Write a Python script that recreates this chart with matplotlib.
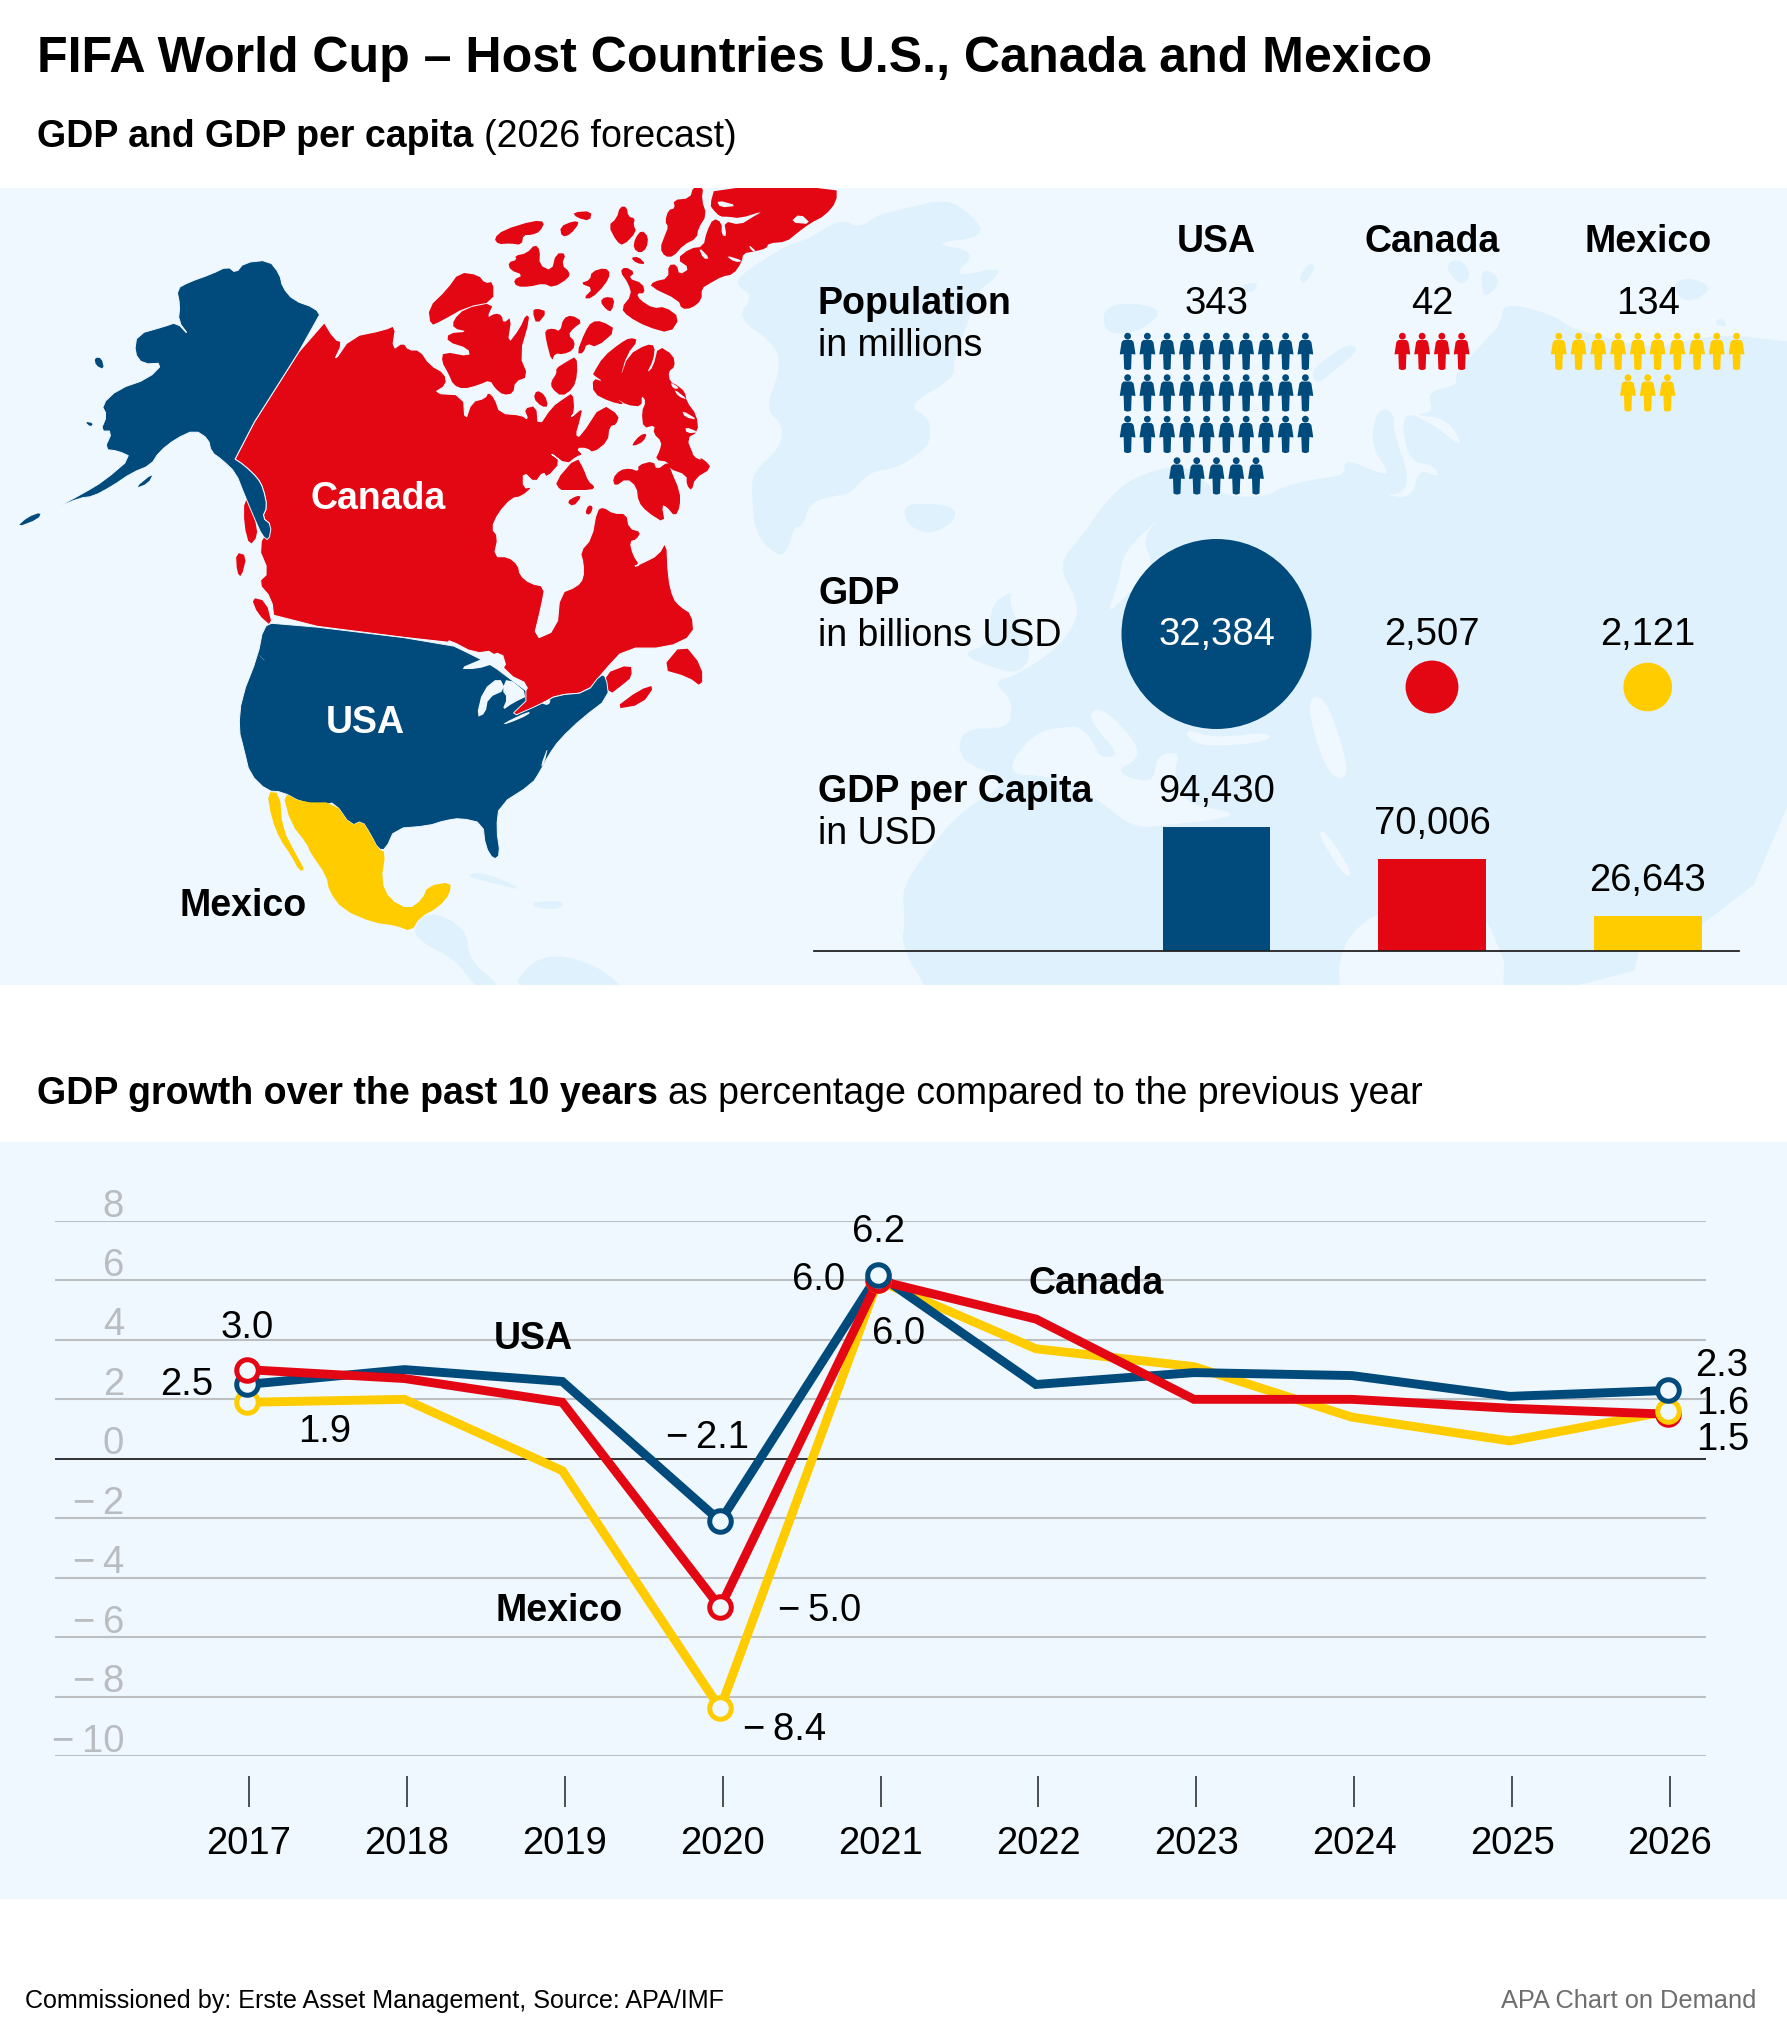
#! /usr/bin/env python3
import numpy as np
import matplotlib
matplotlib.use('Agg')
import matplotlib.pyplot as plt
from matplotlib.patches import Polygon, Rectangle, Circle
from matplotlib.transforms import ScaledTranslation

plt.rcParams['font.family'] = ['Liberation Sans', 'DejaVu Sans']

W, H = 1787, 2035
NAVY, RED, YELLOW = '#004a7c', '#e30613', '#ffcc00'
PANEL, LAND = '#eff8fe', '#dff1fd'
TEXT_SIZE, NUM_SIZE = 27, 27.5

countries = ['USA', 'Canada', 'Mexico']
colors = [NAVY, RED, YELLOW]
population = [343, 42, 134]
population_icons = [35, 4, 13]
gdp = [32384, 2507, 2121]
gdp_per_capita = [94430, 70006, 26643]

years = [2017, 2018, 2019, 2020, 2021, 2022, 2023, 2024, 2025, 2026]
growth_usa = [2.5, 3.0, 2.6, -2.1, 6.2, 2.5, 2.9, 2.8, 2.1, 2.3]
growth_canada = [3.0, 2.7, 1.9, -5.0, 6.0, 4.7, 2.0, 2.0, 1.7, 1.5]
growth_mexico = [1.9, 2.0, -0.4, -8.4, 6.0, 3.7, 3.1, 1.4, 0.6, 1.6]
y_ticks = [8, 6, 4, 2, 0, -2, -4, -6, -8, -10]
marked_years = [2017, 2020, 2021, 2026]


def wide(pts):
    return [(x / 1.823, 180 + y / 1.912) for x, y in pts]

def fine(pts):
    return [(420 + x / 3, 185 + y / 3) for x, y in pts]

def mid(pts):
    return [(840 + x / 3, 185 + y / 3) for x, y in pts]

def east(pts):
    return [(1287 + x / 3, 185 + y / 3) for x, y in pts]

def south(pts):
    return [(880 + x / 3, 585 + y / 3) for x, y in pts]

def smooth(pts, rounds=1):
    # corner cutting, the traced outlines are too angular otherwise
    pts = np.array(pts, dtype=float)
    for _ in range(rounds):
        nxt = np.roll(pts, -1, axis=0)
        pts = np.column_stack([0.75 * pts + 0.25 * nxt, 0.25 * pts + 0.75 * nxt]).reshape(-1, 2)
    return pts

alaska = wide([(585, 262), (423, 530), (445, 545), (470, 570), (480, 590), (487, 625), (478, 645),
    (495, 660), (490, 690), (478, 680), (465, 650), (445, 600), (430, 560), (405, 535), (385, 520),
    (380, 495), (355, 478), (320, 495), (290, 520), (275, 545), (240, 560), (205, 585), (170, 605),
    (145, 608), (100, 628), (150, 600), (190, 575), (240, 530), (215, 518), (190, 515), (205, 480),
    (183, 480), (195, 450), (185, 430), (215, 400), (270, 380), (298, 350), (260, 352), (245, 330),
    (250, 295), (300, 280), (322, 272), (345, 298), (325, 270), (328, 240), (322, 208), (345, 195), (385, 180), (415, 165), (430, 178),
    (445, 158), (490, 153), (510, 180), (515, 205), (535, 230), (575, 245)])
aleutians = wide([(30, 664), (50, 645), (75, 635), (70, 648)])
alaska_isles = [wide(p) for p in [[(172, 340), (185, 340), (190, 362), (175, 355)],
    [(155, 462), (170, 465), (165, 472)], [(245, 590), (280, 560), (270, 580)]]]
alaska_slits = [wide(p) for p in [[(275, 540), (352, 480), (310, 530), (290, 540)],
    [(350, 530), (385, 498), (375, 520)]]]

canada_main = (wide([(585, 262), (610, 305), (625, 310), (607, 350), (640, 300), (700, 287),
        (722, 277), (715, 325), (735, 310), (745, 325)])
    + fine([(0, 495), (30, 540), (75, 565), (80, 600), (40, 625), (130, 630), (135, 710), (155, 650),
        (195, 640), (205, 620), (225, 640), (240, 685), (305, 690), (325, 705), (310, 670), (350, 660),
        (355, 725), (395, 665), (430, 640), (460, 620), (465, 680), (450, 700), (490, 665), (480, 710),
        (468, 750), (480, 755), (545, 655), (600, 690), (590, 720), (570, 725), (565, 770), (520, 805),
        (500, 790), (470, 790), (490, 810), (470, 815), (440, 840), (385, 800), (425, 830), (380, 880),
        (370, 860), (345, 895), (310, 860), (310, 910), (340, 905), (305, 935), (275, 940), (235, 985),
        (215, 1030), (235, 1055), (222, 1115), (265, 1115), (295, 1140), (300, 1170), (330, 1195),
        (375, 1205), (365, 1260)])
    + wide([(972, 880), (1015, 860), (1021, 790)])
    + fine([(470, 1205), (490, 1180), (490, 1135), (480, 1100), (515, 1060), (530, 975), (550, 965),
        (580, 985), (620, 985), (628, 1030), (665, 1040), (650, 1065), (630, 1070), (640, 1110),
        (660, 1140), (640, 1145), (665, 1135), (715, 1110), (740, 1065), (745, 1180), (760, 1240)])
    + wide([(1240, 815), (1262, 830), (1265, 870), (1215, 895), (1140, 895), (1100, 940), (1070, 980),
        (1015, 985), (990, 1000), (965, 1015), (925, 1030), (950, 990), (965, 965), (925, 945),
        (900, 900), (865, 905), (820, 880), (815, 885), (500, 843), (495, 800), (470, 770), (490, 750),
        (470, 700), (495, 660), (478, 645), (487, 625), (480, 590), (470, 570), (445, 545), (423, 530)]))

arctic = [fine(p) for p in [
    [(222, 160), (250, 135), (340, 107), (375, 110), (360, 140), (335, 150), (310, 150), (305, 180), (270, 175), (235, 178)],
    [(420, 125), (460, 108), (480, 112), (450, 150), (425, 155)],
    [(458, 82), (515, 78), (510, 108), (470, 98)],
    [(565, 122), (590, 100), (600, 65), (620, 65), (625, 95), (645, 100), (640, 120), (650, 140), (610, 182), (590, 170)],
    [(645, 160), (665, 135), (685, 155), (680, 190), (660, 205), (640, 190)],
    [(632, 218), (655, 215), (678, 238), (650, 235)],
    [(265, 232), (290, 225), (285, 212), (320, 205), (345, 178), (360, 195), (358, 240), (395, 258), (408, 205), (438, 205),
     (425, 240), (450, 262), (445, 280), (400, 308), (370, 295), (330, 305), (290, 305), (280, 285), (310, 270), (270, 255)],
    [(480, 295), (510, 285), (515, 260), (555, 248), (572, 265), (555, 300), (515, 340), (490, 340), (520, 310)],
    [(540, 350), (555, 335), (585, 340), (575, 380), (560, 375)],
    [(600, 260), (615, 245), (645, 262), (625, 280), (668, 295), (675, 325), (650, 325), (660, 345), (700, 370), (735, 365),
     (780, 398), (750, 445), (680, 425), (625, 395), (603, 370), (635, 330), (625, 295)],
    [(820, 5), (850, 5), (845, 45), (860, 90), (835, 130), (830, 160), (790, 180), (760, 215), (735, 215), (720, 190),
     (735, 150), (745, 125), (735, 110), (745, 75), (765, 70), (760, 45), (810, 40)],
    [(870, 60), (885, 5), (1250, 5), (1250, 50), (1215, 92), (1170, 115), (1130, 145), (1100, 170), (1045, 175), (1040, 190),
     (1000, 200), (970, 205), (965, 232), (940, 268), (905, 275), (870, 295), (845, 310), (845, 345), (815, 370), (785, 372),
     (775, 345), (690, 305), (700, 290), (745, 280), (745, 240), (770, 238), (778, 270), (810, 250), (770, 222), (810, 190),
     (850, 185), (860, 140), (880, 100), (905, 112), (905, 150), (920, 155), (912, 108), (960, 120), (1000, 95), (1030, 78),
     (960, 100), (925, 95), (900, 95), (880, 75)],
    [(25, 368), (80, 315), (118, 262), (175, 270), (195, 295), (220, 290), (220, 350), (140, 365), (60, 410), (32, 422)],
    [(100, 405), (135, 370), (222, 352), (200, 400), (225, 385), (245, 390), (250, 415), (275, 395), (262, 480), (300, 430),
     (318, 388), (330, 400), (298, 510), (325, 575), (285, 590), (280, 625), (250, 630), (225, 610), (210, 585), (175, 600),
     (130, 612), (100, 600), (85, 565), (65, 530), (70, 500), (150, 515), (145, 490), (82, 470), (85, 445), (145, 440), (100, 430)],
    [(337, 378), (350, 370), (382, 380), (350, 420)],
    [(375, 435), (400, 430), (420, 440), (430, 400), (455, 390), (488, 410), (460, 430), (445, 450), (465, 470), (460, 495),
     (430, 508), (405, 505), (395, 530), (378, 465)],
    [(470, 505), (495, 440), (515, 410), (545, 408), (590, 435), (530, 487), (500, 475), (490, 505)],
    [(408, 550), (440, 530), (470, 513), (472, 570), (460, 610), (425, 635), (395, 610), (393, 590), (410, 565)],
    [(340, 640), (350, 615), (375, 630), (385, 665), (365, 665)],
    [(405, 890), (470, 815), (490, 850), (505, 890), (525, 905), (515, 915), (440, 915), (420, 915)],
    [(578, 880), (600, 855), (630, 850), (655, 860), (655, 840), (700, 828), (710, 855), (745, 830), (750, 850), (780, 920),
     (780, 965), (765, 995), (740, 965), (725, 960), (735, 1015), (680, 980), (655, 950), (650, 905), (620, 880), (585, 905)],
    [(520, 565), (550, 515), (600, 475), (630, 458), (655, 465), (620, 510), (600, 580), (625, 510), (680, 478), (705, 482),
     (700, 525), (680, 565), (700, 545), (715, 482), (760, 510), (765, 545), (745, 560), (750, 590), (770, 600), (795, 620),
     (800, 650), (830, 690), (835, 740), (800, 760), (820, 810), (855, 825), (875, 850), (825, 880), (815, 918), (800, 900),
     (800, 870), (745, 850), (745, 830), (705, 825), (720, 795), (725, 770), (700, 745), (705, 720), (670, 730), (665, 680),
     (678, 650), (665, 630), (665, 665), (620, 660), (590, 640), (615, 660), (570, 650), (520, 625), (518, 580), (550, 590), (520, 570)],
    [(635, 780), (660, 750), (682, 745), (670, 770), (645, 782)],
    [(440, 950), (470, 932), (485, 935), (460, 965)],
    [(495, 985), (505, 960), (520, 965), (510, 990)],
]]
arctic_slits = [fine(p) for p in [[(760, 610), (805, 645), (775, 635)], [(785, 675), (835, 705), (795, 697)],
    [(795, 725), (838, 742), (800, 745)], [(815, 790), (850, 828), (820, 815)], [(750, 590), (780, 610), (760, 612)],
    [(1140, 85), (1175, 118), (1110, 112)], [(915, 210), (972, 228), (945, 232)], [(985, 178), (1010, 200), (995, 198)],
    [(835, 185), (870, 220), (850, 222)], [(890, 45), (955, 62), (900, 68)]]]
canada_isles = [wide(p) for p in [
    [(445, 610), (462, 615), (465, 650), (470, 680), (455, 700), (445, 660)],
    [(430, 712), (450, 718), (440, 760), (432, 750)],
    [(458, 798), (485, 805), (497, 855), (470, 830)],
    [(1100, 945), (1150, 925), (1152, 950), (1135, 965), (1110, 985)],
    [(1118, 1012), (1165, 975), (1195, 965), (1170, 1003)],
    [(1205, 935), (1245, 885), (1280, 930), (1280, 970), (1255, 950)],
]]

usa = wide([(500, 845), (815, 885), (865, 910), (900, 930), (925, 950), (970, 985), (925, 1030), (990, 1000),
    (1015, 985), (1070, 980), (1095, 945), (1105, 950), (1110, 990), (1060, 1030), (1020, 1070), (1000, 1100),
    (985, 1130), (970, 1155), (910, 1195), (905, 1240), (912, 1290), (900, 1300), (885, 1275), (880, 1230),
    (840, 1220), (810, 1225), (780, 1235), (720, 1240), (703, 1280), (690, 1280), (675, 1250), (660, 1225),
    (640, 1235), (610, 1190), (590, 1195), (550, 1190), (515, 1170), (487, 1168), (455, 1135), (445, 1090),
    (435, 1050), (440, 990), (470, 910), (480, 855)])
usa_slits = [wide(p) for p in [[(985, 1122), (1000, 1080), (992, 1118)], [(470, 905), (485, 922), (478, 915)]]]
mexico_main = wide([(515, 1170), (550, 1190), (610, 1190), (640, 1235), (660, 1225), (675, 1250), (690, 1280),
    (703, 1285), (695, 1340), (710, 1375), (745, 1395), (770, 1375), (780, 1350), (822, 1342), (820, 1365),
    (800, 1390), (765, 1410), (750, 1437), (720, 1425), (680, 1420), (625, 1395), (600, 1360), (595, 1330),
    (565, 1285), (560, 1270), (530, 1230)])
baja = wide([(487, 1170), (510, 1172), (515, 1240), (540, 1290), (556, 1320), (545, 1320), (530, 1290),
    (510, 1260), (495, 1220)])
lakes = [wide(p) for p in [
    [(835, 935), (880, 915), (915, 900), (925, 935), (900, 925), (870, 935)],
    [(868, 1028), (880, 975), (910, 950), (922, 975), (890, 990), (885, 1020)],
    [(915, 975), (925, 950), (965, 985), (935, 1000), (915, 1015), (925, 990)],
    [(915, 1040), (965, 1015), (965, 1022), (925, 1040)],
    [(985, 1000), (1005, 992), (1000, 1005)],
]]

greenland = (fine([(960, 270), (1100, 180), (1170, 160), (1260, 100)])
    + mid([(60, 130), (110, 90), (180, 75), (320, 40), (395, 90), (440, 155), (270, 175), (415, 200),
        (330, 280), (510, 240), (390, 340), (395, 390), (340, 520), (345, 580), (200, 660), (270, 700), (270, 770),
        (245, 800), (170, 850), (90, 860), (30, 925)])
    + fine([(1260, 930), (1170, 950), (1150, 1020), (1120, 1030), (1110, 1080), (1080, 1120), (1005, 1050),
        (995, 920), (1000, 860), (1080, 790), (1090, 720), (1035, 670), (1080, 560), (1070, 480), (950, 400),
        (1000, 335), (950, 300)]))
iceland = mid([(190, 960), (260, 955), (345, 965), (345, 1010), (270, 1050), (200, 1020)])
svalbard = [mid([(785, 375), (860, 350), (975, 375), (900, 440), (800, 450)]),
    mid([(1380, 280), (1420, 230), (1400, 290)]),
    mid([(1200, 300), (1260, 290), (1230, 330)])]
siberia_isles = [east([(470, 240), (520, 220), (555, 270), (520, 305)]), east([(580, 270), (600, 250), (645, 290), (590, 345)]),
    east([(1150, 300), (1210, 275), (1280, 310), (1200, 360)]), east([(1280, 420), (1300, 395), (1325, 425)]),
    east([(35, 275), (70, 230), (85, 250), (50, 300)])]
eurasia = (south([(150, 1225), (65, 1090), (75, 1000), (65, 910), (140, 800), (240, 680), (400, 585),
        (235, 530), (245, 430), (385, 430), (395, 380), (390, 340), (340, 290), (410, 270), (520, 200), (585, 120), (595, 50)])
    + [(1057, 565), (1083, 535), (1103, 505), (1130, 478), (1187, 462), (1217, 495), (1263, 498)]
    + east([(0, 900), (100, 880), (175, 870), (170, 820), (290, 870), (305, 860), (250, 780), (270, 670), (320, 680),
        (320, 740), (365, 870), (350, 925), (290, 930), (375, 940), (395, 850), (460, 880), (440, 840), (370, 830),
        (345, 730), (360, 680), (440, 720), (490, 760), (530, 785), (480, 700), (380, 690), (440, 680), (420, 620),
        (515, 600), (500, 570), (600, 460), (640, 420), (650, 350), (800, 390), (850, 430), (1000, 470),
        (1100, 490), (1300, 445), (1500, 470), (1550, 470)])
    + [(1810, 1010), (930, 1010)])
novaya = east([(70, 560), (130, 510), (190, 475), (215, 495), (150, 550), (90, 600)])
britain = south([(240, 205), (330, 180), (330, 60), (400, 15), (385, 60), (460, 200), (420, 265), (340, 250)])
seas = [
    south([(395, 525), (470, 440), (560, 425), (600, 425), (640, 470), (660, 520), (720, 510), (640, 420), (630, 380),
        (670, 370), (760, 460), (780, 520), (700, 560), (820, 600), (830, 510), (900, 500), (880, 570), (920, 660),
        (1060, 680), (1040, 700), (860, 720), (760, 730), (650, 640), (560, 590), (470, 570), (400, 570)]),
    south([(915, 430), (1000, 460), (1170, 440), (1165, 470), (1000, 485), (930, 470)]),
    [(1305, 700), (1325, 695), (1347, 760), (1345, 782), (1325, 770)],
    [(1317, 833), (1325, 830), (1353, 873), (1345, 878)],
    mid([(850, 1100), (970, 990), (905, 1060), (945, 1150), (850, 1240), (800, 1290), (840, 1180)]),
    [(1341, 1010), (1338, 945), (1385, 905), (1445, 920), (1470, 880), (1525, 1010)],
    [(1625, 1010), (1650, 905), (1690, 950), (1690, 1010)],
    east([(100, 600), (260, 560), (420, 620), (350, 670), (250, 640), (130, 700)]),
]
americas_south = wide([(920, 1560), (985, 1475), (1090, 1500), (1150, 1560)])
central_america = wide([(750, 1437), (780, 1395), (850, 1430), (855, 1490), (900, 1530), (920, 1560),
    (880, 1560), (830, 1490), (780, 1465)])
caribbean = [wide(p) for p in [[(845, 1330), (880, 1322), (960, 1360), (900, 1345)],
    [(970, 1380), (1030, 1378), (1020, 1395), (975, 1392)]]]

person_body = [(-4, 7), (4, 7), (6, 9), (7.7, 20), (7.7, 21.5), (4, 21), (3.5, 36), (1, 37), (-1, 37),
    (-3.5, 36), (-4, 21), (-7.7, 21.5), (-7.7, 20), (-6, 9)]


def px_axes(fig, left, top, right, bottom):
    return fig.add_axes([left / W, 1 - bottom / H, (right - left) / W, (bottom - top) / H])

def minus(s):
    return str(s).replace('-', '\u2212\u2009')

def runs(ax, x, y, parts, size):
    # bold and regular on one baseline, each starting where the last one ended
    renderer = ax.figure.canvas.get_renderer()
    for s, weight in parts:
        t = ax.text(x, y, s, fontsize=size, fontweight=weight, va='baseline', ha='left')
        x += t.get_window_extent(renderer).width

def draw_map(ax):
    panel = Rectangle((0, 188), W, 797, fc=PANEL, ec='none', zorder=0)
    ax.add_patch(panel)
    ax.add_patch(Rectangle((0, 1142), W, 757, fc=PANEL, ec='none', zorder=0))
    back = [greenland, iceland, eurasia, britain, novaya, americas_south, central_america] + caribbean + svalbard + siberia_isles
    for shape in back:
        p = Polygon(smooth(shape, 2), fc=LAND, ec='none', zorder=1)
        ax.add_patch(p)
        p.set_clip_path(panel)
    for shape in seas:
        p = Polygon(smooth(shape, 2), fc=PANEL, ec='none', zorder=1.5)
        ax.add_patch(p)
        p.set_clip_path(panel)
    for shape in [canada_main] + arctic + canada_isles:
        p = Polygon(smooth(shape), fc=RED, ec='none', zorder=2)
        ax.add_patch(p)
        p.set_clip_path(panel)
    ax.add_patch(Polygon(smooth(canada_main), fc='none', ec=PANEL, lw=0.8, zorder=3))
    for shape in [alaska, usa]:
        ax.add_patch(Polygon(smooth(shape), fc=NAVY, ec=PANEL, lw=0.7, zorder=3))
    for shape in [aleutians] + alaska_isles:
        ax.add_patch(Polygon(smooth(shape), fc=NAVY, ec='none', zorder=3))
    for shape in [mexico_main, baja]:
        ax.add_patch(Polygon(smooth(shape), fc=YELLOW, ec='none', zorder=3))
    for shape in lakes + alaska_slits + arctic_slits + usa_slits:
        ax.add_patch(Polygon(smooth(shape), fc=PANEL, ec='none', zorder=4))
    ax.text(378, 509, 'Canada', color='white', fontsize=TEXT_SIZE, fontweight='bold', ha='center', va='baseline', zorder=5)
    ax.text(365, 733, 'USA', color='white', fontsize=TEXT_SIZE, fontweight='bold', ha='center', va='baseline', zorder=5)
    ax.text(179, 916, 'Mexico', fontsize=TEXT_SIZE, fontweight='bold', ha='left', va='baseline', zorder=5)

def draw_people(ax, centers):
    body = np.array(person_body)
    for cx, n, color in zip(centers, population_icons, colors):
        for i in range(n):
            row = i // 10
            in_row = min(n - row * 10, 10)
            x = cx + ((i % 10) - (in_row - 1) / 2) * 19.75
            y = 333 + row * 41.5
            ax.add_patch(Polygon(body + (x, y), fc=color, ec='none', zorder=5))
            ax.add_patch(Circle((x, y + 3.2), 3.4, fc=color, ec='none', zorder=5))

def draw_table(ax, centers):
    for cx, name, n in zip(centers, countries, population):
        ax.text(cx, 252, name, fontsize=TEXT_SIZE, fontweight='bold', ha='center', va='baseline', zorder=6)
        ax.text(cx, 314.5, str(n), fontsize=NUM_SIZE, ha='center', va='baseline', zorder=6)
    for y, head, sub, dy in [(314.5, 'Population', 'in millions', 41), (604.5, 'GDP', 'in billions USD', 41),
                             (802, 'GDP per Capita', 'in USD', 42)]:
        ax.text(818, y, head, fontsize=TEXT_SIZE, fontweight='bold', va='baseline', zorder=6)
        ax.text(818, y + dy, sub, fontsize=TEXT_SIZE, va='baseline', zorder=6)
    draw_people(ax, centers)
    # circle area follows GDP
    radii = 95 * np.sqrt(np.array(gdp) / max(gdp))
    sizes = (2 * radii * 72 / 100) ** 2
    ax.scatter(centers, [634, 687, 687], s=sizes, c=colors, linewidths=0, zorder=5)
    ax.text(centers[0], 645, f'{gdp[0]:,}', color='white', fontsize=NUM_SIZE, ha='center', va='baseline', zorder=6)
    for cx, v in zip(centers[1:], gdp[1:]):
        ax.text(cx, 645, f'{v:,}', fontsize=NUM_SIZE, ha='center', va='baseline', zorder=6)

def draw_bars(fig):
    ax = px_axes(fig, 814, 820, 1739, 951)
    ax.patch.set_visible(False)
    ax.set_xlim(-1.867, 2.423)
    ax.set_ylim(0, 100000)
    ax.bar(range(3), gdp_per_capita, width=0.5, color=colors)
    for i, v in enumerate(gdp_per_capita):
        ax.annotate(f'{v:,}', (i, v), xytext=(0, 18), textcoords='offset points', fontsize=NUM_SIZE,
                ha='center', va='baseline', annotation_clip=False)
    for side in ['top', 'left', 'right']:
        ax.spines[side].set_visible(False)
    ax.spines['bottom'].set_linewidth(1.3)
    ax.spines['bottom'].set_color('#222222')
    ax.set_xticks([])
    ax.set_yticks([])

def draw_lines(fig):
    ax = px_axes(fig, 55, 1221, 1706, 1756)
    ax.patch.set_visible(False)
    ax.set_xlim(2015.787, 2026.243)
    ax.set_ylim(-10, 8)
    for side in ax.spines:
        ax.spines[side].set_visible(False)
    ax.spines['bottom'].set_position(('outward', 14.4))
    ax.set_xticks([y + 0.015 for y in years], [str(y) for y in years])
    ax.tick_params(axis='x', direction='out', length=22.3, width=1.2, color='#333333', pad=13.5, labelsize=NUM_SIZE)
    ax.set_yticks(y_ticks, [minus(v) for v in y_ticks])
    ax.tick_params(axis='y', length=0, pad=-49.7, labelsize=NUM_SIZE, labelcolor='#b9bdc1')
    nudge = ScaledTranslation(0, -3.5 / 100, fig.dpi_scale_trans)
    for label in ax.get_yticklabels():
        label.set_verticalalignment('bottom')
        label.set_transform(label.get_transform() + nudge)
    for v in y_ticks:
        if v == 0:
            ax.axhline(v, color='#111111', lw=1.2, zorder=2)
        else:
            ax.axhline(v, color='#bcc0c3', lw=1.5, zorder=1)

    series = {'usa': (growth_usa, NAVY), 'canada': (growth_canada, RED), 'mexico': (growth_mexico, YELLOW)}
    for key, z in [('mexico', 3), ('usa', 3.1), ('canada', 3.2)]:
        vals, color = series[key]
        ax.plot(years, vals, color=color, lw=6.4, solid_joinstyle='miter', clip_on=False, zorder=z)
    marker_order = {2017: ['mexico', 'usa', 'canada'], 2020: ['mexico', 'canada', 'usa'],
                    2021: ['mexico', 'canada', 'usa'], 2026: ['canada', 'mexico', 'usa']}
    for yr in marked_years:
        for n, key in enumerate(marker_order[yr]):
            vals, color = series[key]
            ax.plot(yr, vals[years.index(yr)], 'o', ms=15.5, mew=3.6, mfc=PANEL, mec=color,
                    clip_on=False, zorder=4 + n / 10)

def main():
    fig = plt.figure(figsize=(W / 100, H / 100), dpi=100, facecolor='white')
    ax = fig.add_axes([0, 0, 1, 1])
    ax.set_xlim(0, W)
    ax.set_ylim(H, 0)
    ax.axis('off')

    centers = [1216.5, 1432, 1647.7]
    draw_map(ax)
    draw_table(ax, centers)
    draw_bars(fig)
    draw_lines(fig)

    ax.text(37, 72, 'FIFA World Cup \u2013 Host Countries U.S., Canada and Mexico', fontsize=36.1,
            fontweight='bold', va='baseline')
    runs(ax, 37, 147, [('GDP and GDP per capita', 'bold'), (' ', 'normal'), ('(2026 forecast)', 'normal')], TEXT_SIZE)
    runs(ax, 37, 1104, [('GDP growth over the past 10 years', 'bold'), (' ', 'normal'),
                        ('as percentage compared to the previous year', 'normal')], TEXT_SIZE)

    # value and series labels on the line chart, over everything else
    top = fig.add_axes([0, 0, 1, 1], zorder=10)
    top.set_xlim(0, W)
    top.set_ylim(H, 0)
    top.axis('off')
    labels = [(247.5, 1338.5, '3.0', 'center', 'normal'), (213.6, 1395, '2.5', 'right', 'normal'),
        (298.5, 1441.5, '1.9', 'left', 'normal'), (493.6, 1349, 'USA', 'left', 'bold'),
        (878.5, 1241.5, '6.2', 'center', 'normal'), (845.5, 1290, '6.0', 'right', 'normal'),
        (872.4, 1344.5, '6.0', 'left', 'normal'), (666.5, 1447.5, minus('-2.1'), 'left', 'normal'),
        (495.5, 1621, 'Mexico', 'left', 'bold'), (778, 1621, minus('-5.0'), 'left', 'normal'),
        (743, 1739.5, minus('-8.4'), 'left', 'normal'), (1028.4, 1293.5, 'Canada', 'left', 'bold'),
        (1695, 1376.5, '2.3', 'left', 'normal'), (1696, 1413.5, '1.6', 'left', 'normal'),
        (1696, 1450.5, '1.5', 'left', 'normal')]
    for x, y, s, ha, weight in labels:
        top.text(x, y, s, fontsize=TEXT_SIZE if weight == 'bold' else NUM_SIZE, fontweight=weight, ha=ha, va='baseline')

    top.text(25, 2008, 'Commissioned by: Erste Asset Management, Source: APA/IMF', fontsize=18.1, va='baseline')
    top.text(1756, 2008, 'APA Chart on Demand', fontsize=18.3, color='#6e6e6e', ha='right', va='baseline')
    fig.savefig('out.png', dpi=100)

if __name__ == '__main__':
    main()
